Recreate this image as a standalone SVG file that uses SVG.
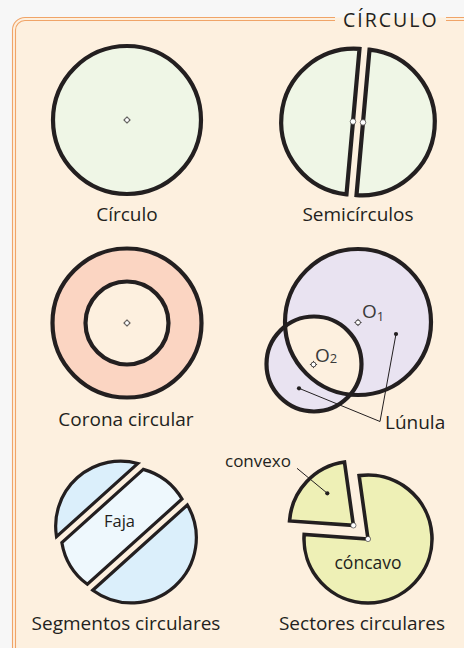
<svg xmlns="http://www.w3.org/2000/svg" width="464" height="648" viewBox="0 0 464 648">
<style>
.lbl{font-family:"Open Sans","Noto Sans","Liberation Sans",sans-serif;font-size:19px;fill:#231f20;text-anchor:middle}
.sm{font-family:"Open Sans","Noto Sans","Liberation Sans",sans-serif;fill:#231f20}
.ol{fill:none;stroke:#231f20;stroke-width:4.2}
.bd{fill:none;stroke:#f0a468;stroke-width:1.1}
.lead{stroke:#231f20;stroke-width:1;fill:none}
</style>
<defs>
<g id="ctr">
<path d="M0 -3.6V3.6M-3.6 0H3.6" stroke="#231f20" stroke-width="0.8"/>
<circle r="2.4" fill="#fff" stroke="#231f20" stroke-width="0.8"/>
</g>
<clipPath id="bigc"><circle cx="358" cy="322" r="73"/></clipPath>
</defs>
<rect width="464" height="648" fill="#f7f7f7"/>
<g id="panel">
<path d="M12.5 648V30A12.5 12.5 0 0 1 25 17.5H464V648Z" fill="#fdf0df"/>
<path class="bd" d="M12.5 648V30A12.5 12.5 0 0 1 25 17.5H335M446 17.5H464"/>
<path class="bd" d="M15.5 648V30A9.5 9.5 0 0 1 25 20.5H335M446 20.5H464"/>
<text x="343" y="27" font-family="Open Sans,Noto Sans,sans-serif" font-size="19.5" letter-spacing="2" fill="#231f20">CÍRCULO</text>
</g>
<g id="circulo">
<circle cx="127" cy="120" r="74" class="ol" style="fill:#eff6e6"/>
<use href="#ctr" x="127" y="120"/>
<text class="lbl" x="127" y="221">Círculo</text>
</g>
<g id="semicirculos">
<path d="M359.5 48.9A73 73 0 0 0 346.5 194.3Z" class="ol" style="fill:#eff6e6"/>
<path d="M369.5 49.7A73 73 0 0 1 356.5 195.1Z" class="ol" style="fill:#eff6e6"/>
<circle cx="353" cy="121.6" r="2.8" fill="#fff" stroke="#231f20" stroke-width="0.6"/>
<circle cx="363" cy="122.4" r="2.8" fill="#fff" stroke="#231f20" stroke-width="0.6"/>
<text class="lbl" x="358" y="221">Semicírculos</text>
</g>
<g id="corona">
<circle cx="127" cy="323" r="74.5" class="ol" style="fill:#fbd5c2"/>
<circle cx="127" cy="323" r="41.5" class="ol" style="fill:#fdf0df"/>
<use href="#ctr" x="127" y="323"/>
<text class="lbl" x="126" y="426">Corona circular</text>
</g>
<g id="lunula">
<circle cx="358" cy="322" r="73" fill="#e9e3f1"/>
<circle cx="314" cy="364" r="47.5" fill="#e9e3f1"/>
<circle cx="314" cy="364" r="47.5" fill="#fdf0df" clip-path="url(#bigc)"/>
<circle cx="358" cy="322" r="73" class="ol"/>
<circle cx="314" cy="364" r="47.5" class="ol"/>
<use href="#ctr" x="358" y="322.5"/>
<use href="#ctr" x="313.5" y="364.5"/>
<text class="sm" x="362" y="318" font-size="19" style="fill:#3a3a3a">O<tspan font-size="13" dy="3">1</tspan></text>
<text class="sm" x="315" y="361.5" font-size="19" style="fill:#3a3a3a">O<tspan font-size="13" dy="1.5">2</tspan></text>
<path class="lead" d="M396 334L380 421.5L299 388.3"/>
<circle cx="396" cy="334" r="2.1" fill="#231f20"/>
<circle cx="299" cy="388.3" r="2.1" fill="#231f20"/>
<text class="sm" x="385" y="429" font-size="19">Lúnula</text>
</g>
<g id="segmentos">
<path d="M137.93 463.42L56.53 536.7A65 65 0 0 1 137.93 463.42Z" fill="#dbeffb" stroke="#231f20" stroke-width="3.2"/>
<path d="M143.28 469.36L61.88 542.64A65 65 0 0 0 87.38 584.27L182.02 499.05A65 65 0 0 0 143.28 469.36Z" fill="#eef8fd" stroke="#231f20" stroke-width="3.2"/>
<path d="M187.37 504.99L92.73 590.21A65 65 0 0 0 187.37 504.99Z" fill="#dbeffb" stroke="#231f20" stroke-width="3.2"/>
<text class="sm" x="119.5" y="527" font-size="16.5" text-anchor="middle">Faja</text>
<text class="lbl" x="126" y="630">Segmentos circulares</text>
</g>
<g id="sectores">
<path d="M368 539L359.09 475.62A64 64 0 1 1 304.16 534.53Z" fill="#eef0b6" stroke="#231f20" stroke-width="3.6"/>
<path d="M353.4 525.4L289.55 520.93A64 64 0 0 1 344.49 462.02Z" fill="#eef0b6" stroke="#231f20" stroke-width="3.6"/>
<circle cx="368" cy="539" r="2.6" fill="#fff" stroke="#231f20" stroke-width="0.6"/>
<circle cx="353.4" cy="525.4" r="2.6" fill="#fff" stroke="#231f20" stroke-width="0.6"/>
<path class="lead" d="M297 468.3L327.3 493.3"/>
<circle cx="327.3" cy="493.3" r="2.1" fill="#231f20"/>
<text class="sm" x="225" y="467" font-size="17">convexo</text>
<text class="sm" x="368" y="569" font-size="17.5" text-anchor="middle">cóncavo</text>
<text class="lbl" x="362" y="630">Sectores circulares</text>
</g>
</svg>
